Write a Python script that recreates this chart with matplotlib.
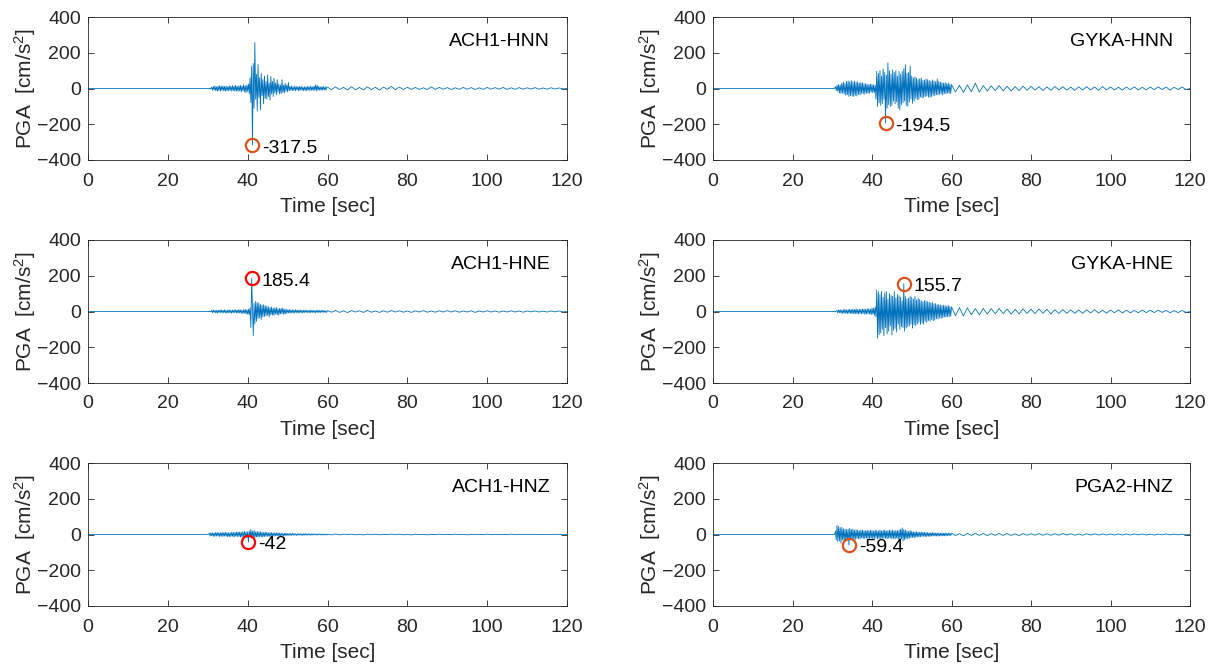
import numpy as np
import matplotlib
matplotlib.use("Agg")
import matplotlib.pyplot as plt

plt.rcParams['font.family'] = ['Liberation Sans', 'DejaVu Sans']
plt.rcParams['mathtext.fontset'] = 'custom'
plt.rcParams['mathtext.rm'] = 'Liberation Sans'
plt.rcParams['mathtext.it'] = 'Liberation Sans'

# ---------------- data ----------------
# each record: values every 0.2 s from 30.0 s (fine part), then every 1 s from 60 s (coda)
stations = ["ACH1-HNN", "GYKA-HNN", "ACH1-HNE", "GYKA-HNE", "ACH1-HNZ", "PGA2-HNZ"]
peak_labels = ["-317.5", "-194.5", "185.4", "155.7", "-42", "-59.4"]
marker_colors = ["#D95319", "#D95319", "#FF0000", "#D95319", "#FF0000", "#D95319"]

ach1_hnn_fine = [
    0, 1, -1, 2, -2,
    8, -10, 12, -9, 14, -12, 10, -15, 13, -11,
    16, -14, 12, -10, 15, -13, 11, -16, 14, -12,
    10, -13, 15, -11, 12, -14, 16, -12, 13, -15,
    18, -14, 12, -16, 15, -13, 17, -20, 14, -12,
    22, -18, 15, -24, 20, -16, 25, -30,
    60, -78, 125, -317.5, 140, -110, 257, -60, 80, -127,
    134, -50, 60, -120, 84, -40, 50, -85, 70, -55,
    40, -60, 75, -45, 30, -64, 68, -30, 40, -45,
    58, -25, 30, -36, 49, -20, 25, -30, 20, -28,
    49, -22, 18, -25, 30, -15, 20, -18, 34, -14,
    12, -10, 15, -12, 9, -11, 14, -13, 10, -8,
    12, -14, 11, -9, 13, -10, 8, -12, 10, -11,
    9, -13, 12, -8, 10, -12, 14, -10, 9, -11,
    13, -9, 20, -14, 18, -10, 12, -9, 8, -10,
    11, -9, 10, -8, 9, -10, 8,
]
ach1_hnn_coda = [
    8, -7, 9, -6, 7, -8, 10, -7, 6, -8,
    9, -6, 7, -9, 8, -5, 12, -7, 8, -6,
    7, -5, 6, -5, 4, -6, 9, -5, 6, -4,
    5, -6, 4, -5, 6, -4, 5, -6, 4, -5,
    6, -4, 5, -4, 6, -5, 4, -5, 5, -4,
    4, -3, 5, -4, 3, -4, 4, -3, 3, -2,
]

gyka_hnn_fine = [
    0, 1, -1, 2,
    10, -12, 18, -15, 22, -25, 20, -28, 30, -26,
    35, -30, 28, -38, 40, -35, 42, -45, 38, -40,
    44, -42, 36, -45, 40, -38, 35, -42, 38, -33,
    30, -36, 34, -28, 32, -30, 26, -32, 28, -25,
    24, -28, 22, -26, 25, -20, 23, -24, 20, -22, 18,
    -60, 96, -100, 85, -80, 100, -95, 70, -85, 110,
    -60, 90, -194.5, 75, -110, 143, -90, 100, -100, 80,
    -95, 105, -70, 90, -85, 100, -75, 70, -110, 96,
    -120, 80, -90, 95, -80, 110, -70, 134, -95, 85,
    -100, 90, -75, 125, -60,
    70, -83, 60, -70, 65, -55, 58, -62, 50, -60,
    55, -48, 60, -52, 45, -50, 48, -45, 53, -42,
    50, -48, 45, -50, 40, -45, 48, -38, 42, -40,
    38, -35, 53, -36, 40, -33, 35, -30, 32, -35,
    30, -28, 33, -30, 28, -25, 30, -27, 25, -28,
]
gyka_hnn_coda = [
    22, -20, 18, -22, 20, -18, 30, -20, 16, -14,
    15, -12, 16, -13, 12, -14, 11, -12, 13, -10,
    12, -9, 10, -11, 9, -10, 11, -8, 10, -9,
    8, -10, 9, -8, 10, -8, 9, -10, 11, -8,
    9, -8, 7, -9, 8, -7, 9, -8, 7, -8,
    8, -7, 9, -6, 8, -9, 7, -6, 8, -6,
]

ach1_hne_fine = [
    0, 1, -1, 1, -2,
    6, -7, 8, -5, 7, -8, 6, -9, 7, -6,
    8, -7, 9, -6, 7, -8, 10, -7, 6, -9,
    8, -7, 9, -8, 7, -10, 8, -6, 9, -7,
    10, -8, 7, -9, 11, -8, 9, -10, 8, -12,
    10, -9, 12, -14, 10, -15, 12, -18,
    20, -90, 185.4, 30, -136, 45, -70, 56, -55, 50,
    -40, 47, -35, 40, -45, 35, -30, 38, -28, 32,
    -25, 30, -22, 26, -30, 22, -18, 25, -20, 18,
    -22, 20, -15, 22, -18, 15, -20, 18, -14, 16,
    -12, 20, -15, 12, -14, 15, -10,
    9, -8, 12, -10, 8, -7, 10, -9, 7, -8,
    10, -6, 8, -9, 7, -6, 9, -7, 6, -8,
    7, -6, 8, -5, 7, -6, 5, -7, 8, -6,
    6, -5, 7, -6, 5, -7, 6, -5, 8, -6,
    5, -6, 7, -5, 6, -4, 5, -6, 4, -5,
]
ach1_hne_coda = [
    5, -4, 6, -5, 4, -6, 5, -3, 4, -5,
    6, -4, 3, -5, 4, -4, 5, -3, 4, -4,
    3, -5, 4, -3, 5, -4, 3, -4, 4, -3,
    5, -3, 4, -4, 3, -3, 4, -5, 3, -3,
    4, -3, 3, -4, 3, -3, 4, -3, 3, -4,
    3, -2, 3, -3, 2, -3, 3, -2, 3, -2,
]

gyka_hne_fine = [
    0, 1, -1, 1, -1, 2,
    6, -8, 9, -7, 10, -9, 8, -11, 10, -9,
    12, -10, 9, -12, 11, -10, 13, -11, 10, -12,
    14, -12, 11, -13, 15, -12, 10, -14, 13, -11,
    12, -15, 14, -10, 13, -16, 12, -14, 15, -13,
    16, -14, 12, -18, 20, -15, 18, -22, 25, -30,
    121, -149, 110, -130, 95, -120, 112, -100, 80, -135,
    105, -90, 112, -125, 70, -110, 100, -80, 90, -130,
    85, -105, 112, -95, 75, -115, 95, -70, 88, -100,
    80, -85, 60, -90, 155.7, -110, 84, -93, 70, -85,
    75, -80, 84, -70,
    80, -93, 70, -75, 84, -80, 65, -70, 75, -60,
    68, -72, 60, -65, 55, -70, 62, -55, 58, -60,
    55, -50, 52, -55, 48, -45, 50, -52, 42, -48,
    45, -40, 38, -42, 40, -35, 36, -38, 32, -35,
    35, -30, 33, -32, 30, -28, 34, -30, 28, -26,
]
gyka_hne_coda = [
    26, -24, 22, -25, 20, -18, 16, -19, 17, -14,
    16, -13, 17, -12, 14, -15, 12, -13, 15, -11,
    13, -12, 14, -10, 12, -13, 10, -11, 10, -10,
    9, -10, 8, -10, 9, -8, 10, -9, 7, -9,
    8, -7, 9, -8, 7, -8, 6, -7, 8, -6,
    7, -6, 7, -5, 6, -7, 5, -6, 6, -5,
]

ach1_hnz_fine = [
    0, 1,
    8, -9, 10, -7, 9, -11, 8, -10, 12, -9,
    10, -8, 11, -12, 9, -10, 13, -11, 10, -9,
    12, -10, 11, -13, 10, -12, 9, -11, 13, -10,
    12, -14, 11, -10, 14, -12, 15, -11, 13, -14,
    12, -16, 15, -13, 18, -15, 14, -17, 16, -42, 20,
    -15, 28, -20, 18, -16, 22, -18, 15, -14, 17,
    -15, 14, -12, 16, -13, 12, -14, 11, -12, 13,
    -10, 12, -11, 9, -12, 10, -9, 11, -10, 8,
    -9, 10, -8, 9, -7, 10, -8, 7, -9, 8,
    -7, 6, -8, 7, -6, 8, -6,
    5, -4, 6, -5, 4, -5, 6, -4, 5, -3,
    4, -5, 3, -4, 5, -3, 4, -4, 3, -5,
    4, -3, 5, -4, 3, -3, 4, -3, 3, -4,
    3, -3, 4, -2, 3, -3, 2, -3, 3, -2,
    3, -2, 3, -3, 2, -2, 3, -2, 2, -3,
]
ach1_hnz_coda = [
    2, -2, 3, -2, 2, -1, 2, -2, 1, -2,
    2, -1, 2, -2, 1, -1, 2, -1, 2, -2,
    1, -2, 2, -1, 1, -2, 1, -1, 2, -1,
    1, -1, 2, -1, 1, -2, 1, -1, 1, -1,
    2, -1, 1, -1, 1, -1, 2, -1, 1, -1,
    1, -1, 1, -1, 1, -1, 1, -1, 1, -1,
]

pga2_hnz_fine = [
    0, 1, -1, 2,
    20, -30, 50, -40, 45, -35, 38, -47, 40, -30,
    32, -38, 30, -35, 28, -33, 30, -59.4, 35, -30,
    28, -25, 30, -27, 24, -28, 26, -22, 25, -24,
    22, -25, 24, -20, 26, -22, 20, -24, 22, -20,
    24, -22, 20, -23, 25, -20, 22, -24, 20, -22,
    24, -20, 22, -25, 20, -22, 26, -24, 20, -22,
    23, -20, 25, -22, 20, -24, 22, -21, 25, -20,
    22, -24, 26, -22, 20, -25, 23, -20, 22, -26,
    24, -28, 30, -25, 37, -37, 28, -30, 25, -22,
    20, -24, 18, -20, 22, -18,
    18, -16, 15, -18, 14, -15, 16, -13, 12, -14,
    13, -12, 14, -11, 12, -10, 13, -12, 10, -11,
    12, -10, 9, -11, 10, -9, 11, -8, 10, -9,
    8, -9, 10, -8, 7, -9, 8, -7, 8, -8,
    7, -8, 9, -7, 6, -7, 8, -6, 7, -6,
]
pga2_hnz_coda = [
    7, -6, 5, -7, 6, -5, 7, -5, 6, -6,
    5, -5, 6, -5, 5, -5, 4, -6, 5, -4,
    4, -4, 5, -4, 4, -4, 4, -4, 5, -3,
    4, -4, 3, -4, 4, -3, 4, -3, 3, -3,
    3, -3, 3, -3, 3, -3, 3, -2, 3, -3,
    2, -3, 2, -2, 3, -2, 2, -2, 2, -2,
]

records = [
    (ach1_hnn_fine, ach1_hnn_coda),
    (gyka_hnn_fine, gyka_hnn_coda),
    (ach1_hne_fine, ach1_hne_coda),
    (gyka_hne_fine, gyka_hne_coda),
    (ach1_hnz_fine, ach1_hnz_coda),
    (pga2_hnz_fine, pga2_hnz_coda),
]

x_ticks = [0, 20, 40, 60, 80, 100, 120]
y_ticks = [-400, -200, 0, 200, 400]


def build(fine, coda):
    t = np.concatenate([[0.0], 30.0 + 0.2 * np.arange(len(fine)),
                        60.0 + 1.0 * np.arange(len(coda)), [120.0]])
    v = np.concatenate([[0.0], np.asarray(fine, float), np.asarray(coda, float), [0.0]])
    return t, v


# ---------------- figure ----------------
W, H = 1212, 667
fig = plt.figure(figsize=(W / 100, H / 100), dpi=100)
lefts = [88, 713]
widths = [479, 477]
tops = [17, 240, 463]
ax_h = 143

ink = "#262626"
for k, (name, (fine, coda)) in enumerate(zip(stations, records)):
    r, c = divmod(k, 2)
    ax = fig.add_axes([lefts[c] / W, 1 - (tops[r] + ax_h) / H, widths[c] / W, ax_h / H])
    t, v = build(fine, coda)
    ax.plot(t, v, color="#0072BD", lw=0.6)
    i = int(np.argmax(np.abs(v)))
    ax.plot(t[i], v[i], marker="o", ms=9.5, mfc="none", mec=marker_colors[k], mew=1.6)
    ax.annotate(peak_labels[k], (t[i], v[i]), xytext=(7, -2), textcoords="offset points",
                ha="left", va="center", fontsize=14, color="black")
    ax.text(0.965, 0.83, name, transform=ax.transAxes, ha="right", va="center",
            fontsize=14, color="black")
    ax.set_xlim(0, 120)
    ax.set_ylim(-400, 400)
    ax.set_xticks(x_ticks)
    ax.set_yticks(y_ticks)
    ax.tick_params(direction="in", top=True, right=True, length=4, width=0.6,
                   labelsize=14, colors=ink)
    ax.tick_params(axis="x", pad=9)
    ax.tick_params(axis="y", pad=5)
    for s in ax.spines.values():
        s.set_color(ink)
        s.set_linewidth(0.6)
    ax.set_xlabel("Time [sec]", fontsize=15, color=ink)
    ax.set_ylabel(r"PGA  [cm/s$^2$]", fontsize=15, color=ink)
    ax.xaxis.set_label_coords(0.5, -37 / ax_h)
    ax.yaxis.set_label_coords(-50 / widths[c], 0.5)

fig.savefig("out.png", dpi=100)
